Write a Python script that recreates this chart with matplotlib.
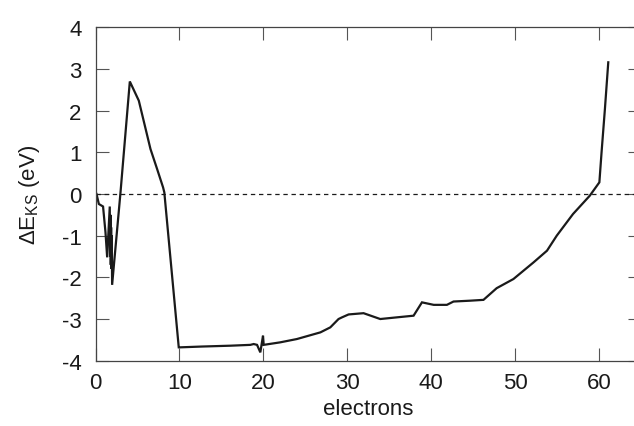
import matplotlib
matplotlib.use("Agg")
import matplotlib.pyplot as plt

plt.rcParams['font.family'] = ['Liberation Sans', 'DejaVu Sans']
plt.rcParams['mathtext.fontset'] = 'custom'
plt.rcParams['mathtext.rm'] = 'Liberation Sans'
plt.rcParams['mathtext.it'] = 'Liberation Sans'

# electrons (x) and Delta E_KS in eV (y)
electrons = [0.12, 0.4, 0.9, 1.19, 1.39, 1.7, 1.74, 1.78, 1.82, 1.86, 1.90, 1.94, 1.98,
             2.98, 4.09, 5.16, 6.55, 7.34, 8.05, 8.2, 9.92, 10.0, 12.7, 16.07, 18.45,
             18.85, 19.25, 19.64, 19.96, 20.04, 22.0, 24.0, 26.8, 27.98, 28.96,
             29.37, 30.16, 31.94, 33.93, 35.9, 37.9, 38.9, 40.3, 41.87, 42.66,
             44.64, 46.23, 47.8, 49.8, 52.2, 53.8, 54.96, 56.9, 58.9, 60.04,
             60.3, 60.7, 61.1]
delta_eks = [0.0, -0.24, -0.3, -0.92, -1.52, -0.3, -1.5, -0.5, -1.7, -0.8, -1.8, -1.0, -2.18,
             0.04, 2.70, 2.24, 1.08, 0.6, 0.16, 0.04, -3.68, -3.68, -3.66, -3.64, -3.62,
             -3.6, -3.62, -3.80, -3.40, -3.62, -3.56, -3.48, -3.32, -3.2, -3.0,
             -2.96, -2.89, -2.86, -3.0, -2.96, -2.92, -2.60, -2.66, -2.66, -2.58,
             -2.56, -2.54, -2.26, -2.04, -1.64, -1.36, -1.0, -0.48, -0.04, 0.28,
             1.0, 2.04, 3.16]

xticks = [0, 10, 20, 30, 40, 50, 60]
yticks = [-4, -3, -2, -1, 0, 1, 2, 3, 4]

W, H = 634, 427
fig = plt.figure(figsize=(W / 100, H / 100), dpi=100)
x0_px, x1_px = 95.5, 641.0
ytop_px, ybot_px = 28.3, 361.7
ax = fig.add_axes([x0_px / W, 1 - ybot_px / H, (x1_px - x0_px) / W, (ybot_px - ytop_px) / H])

ax.plot(electrons, delta_eks, color='#1a1a1a', lw=1.6, solid_joinstyle='miter')
ax.axhline(0, color='#1a1a1a', lw=0.9, dashes=(3.5, 3.0))

ax.set_xlim(0, 65)
ax.set_ylim(-4, 4)
ax.set_xticks(xticks)
ax.set_yticks(yticks)
ax.set_xticklabels([str(v) for v in xticks])
ax.set_yticklabels([str(v) for v in yticks])

for s in ax.spines.values():
    s.set_color('#444444')
    s.set_linewidth(0.9)
ax.tick_params(direction='in', length=9.5, width=0.8, color='#555555',
               top=True, right=True, labelsize=16, labelcolor='#1a1a1a')
ax.tick_params(axis='x', pad=8)
ax.tick_params(axis='y', pad=10)

ax.set_xlabel('electrons', fontsize=16, color='#1a1a1a', labelpad=4)
ax.set_ylabel('ΔE$_{\\mathrm{KS}}$ (eV)', fontsize=16, color='#1a1a1a', labelpad=14)

fig.savefig('out.png', dpi=100)
